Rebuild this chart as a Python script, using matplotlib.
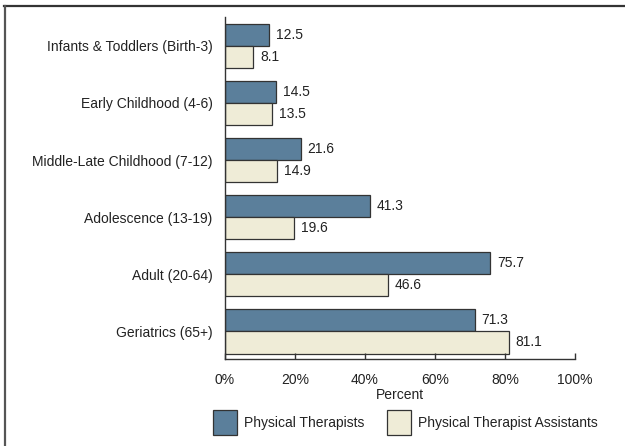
import matplotlib.pyplot as plt
from matplotlib.lines import Line2D
import numpy as np

plt.rcParams['font.family'] = ['Liberation Sans', 'DejaVu Sans']

categories = ['Infants & Toddlers (Birth-3)', 'Early Childhood (4-6)',
              'Middle-Late Childhood (7-12)', 'Adolescence (13-19)',
              'Adult (20-64)', 'Geriatrics (65+)']
pt_values = [12.5, 14.5, 21.6, 41.3, 75.7, 71.3]
pta_values = [8.1, 13.5, 14.9, 19.6, 46.6, 81.1]
series_names = ['Physical Therapists', 'Physical Therapist Assistants']
xticks = [0, 20, 40, 60, 80, 100]
xtick_labels = ['0%', '20%', '40%', '60%', '80%', '100%']

pt_color = '#5b7f9b'
pta_color = '#efecd7'
edge = '#333333'
text_color = '#222222'

fig = plt.figure(figsize=(6.25, 4.46), dpi=100)
ax = fig.add_axes([0.36, 0.195, 0.56, 0.7676])

y = np.arange(len(categories))
h = 0.39
b1 = ax.barh(y - h / 2, pt_values, height=h, color=pt_color, edgecolor=edge,
             linewidth=0.9, label=series_names[0])
b2 = ax.barh(y + h / 2, pta_values, height=h, color=pta_color, edgecolor=edge,
             linewidth=0.9, label=series_names[1])

for bars, vals in [(b1, pt_values), (b2, pta_values)]:
    for bar, v in zip(bars, vals):
        ax.text(v + 2, bar.get_y() + bar.get_height() / 2, f'{v:.1f}',
                va='center', ha='left', fontsize=10, color=text_color)

ax.set_xlim(0, 100)
ax.set_ylim(5.485, -0.51)
ax.set_yticks(y)
ax.set_yticklabels(categories, fontsize=10, color=text_color)
ax.set_xticks(xticks)
ax.set_xticklabels(xtick_labels, fontsize=10, color=text_color)
ax.tick_params(axis='y', length=0, pad=9)
ax.tick_params(axis='x', direction='in', length=4.5, width=1, color=edge, pad=10)
ax.set_xlabel('Percent', fontsize=10, color=text_color, labelpad=1)

for s in ['top', 'right']:
    ax.spines[s].set_visible(False)
for s in ['left', 'bottom']:
    ax.spines[s].set_color(edge)
    ax.spines[s].set_linewidth(1)

fig.legend(handles=[b1, b2], labels=series_names, loc='center',
           bbox_to_anchor=(0.649, 0.052), ncol=2, frameon=False, fontsize=10,
           handlelength=1.7, handleheight=2.4, handletextpad=0.55,
           columnspacing=1.6, labelcolor=text_color)

# outer frame lines (top and left)
fig.add_artist(Line2D([0.007, 1.0], [0.987, 0.987], transform=fig.transFigure,
                      color='#333333', linewidth=1.6))
fig.add_artist(Line2D([0.008, 0.008], [0.0, 0.987], transform=fig.transFigure,
                      color='#555555', linewidth=1.6))

fig.savefig('out.png', dpi=100)
